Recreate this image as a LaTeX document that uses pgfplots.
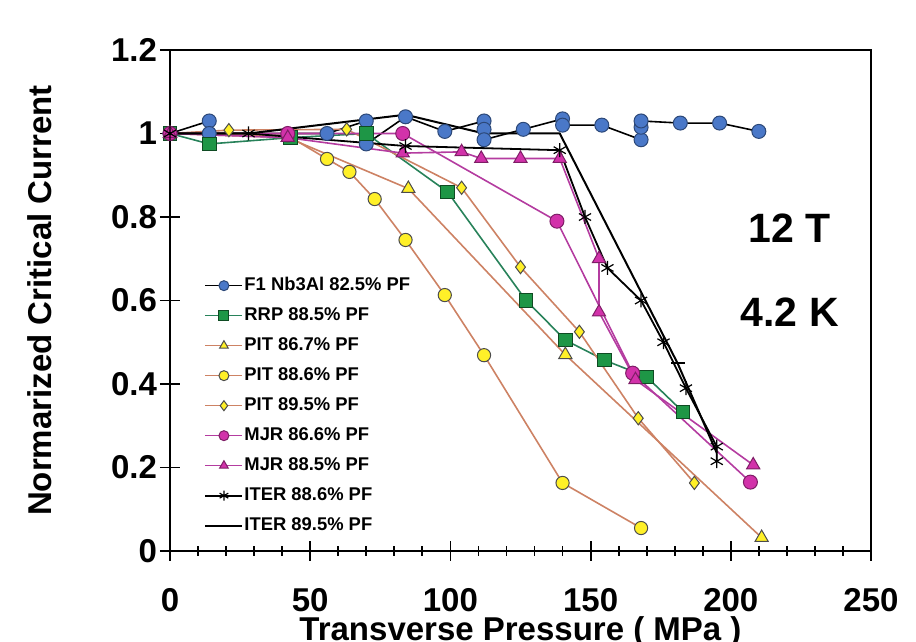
\documentclass[border=0pt]{standalone}
\usepackage{fontspec}
\setmainfont{Liberation Sans}
\usepackage{pgfplots}
\pgfplotsset{compat=1.18}
\definecolor{cblue}{RGB}{74,120,200}
\definecolor{cgreen}{RGB}{30,150,70}
\definecolor{cgline}{RGB}{40,130,90}
\definecolor{cyellow}{RGB}{255,240,40}
\definecolor{ctan}{RGB}{205,130,100}
\definecolor{cmag}{RGB}{210,50,170}
\definecolor{cmline}{RGB}{180,60,160}
\begin{document}
\begin{tikzpicture}
\useasboundingbox (-85pt,-45.5pt) rectangle (373pt,275.5pt);
\begin{axis}[
  at={(0pt,0pt)}, anchor=south west,
  scale only axis, width=350.5pt, height=250.5pt,
  xmin=0, xmax=250, ymin=0, ymax=1.2,
  xtick={0,50,100,150,200,250},
  xticklabels={0,50,100,150,200,250},
  ytick={0,0.2,0.4,0.6,0.8,1,1.2},
  yticklabels={0,0.2,0.4,0.6,0.8,1,1.2},
  xtick pos=bottom, ytick pos=left,
  minor x tick num=4,
  tick align=center,
  major tick length=10pt, minor tick length=5pt,
  axis line style={line width=1.2pt},
  every tick/.style={black, line width=0.9pt},
  ticklabel style={font=\bfseries\fontsize{16.5}{16.5}\selectfont},
  xticklabel style={yshift=-10pt},
  yticklabel style={xshift=2pt},
  xlabel={Transverse Pressure ( MPa )},
  ylabel={Normarized Critical Current},
  label style={font=\bfseries\fontsize{16.5}{16.5}\selectfont},
  xlabel style={at={(axis description cs:0.5,-0.1796)}, anchor=base},
  ylabel style={at={(axis description cs:-0.1855,0.5)}, anchor=center},
  legend style={at={(axis cs:10,0.67)}, anchor=north west, draw=none, fill=none,
    font=\bfseries\fontsize{9.2}{9.2}\selectfont,
    nodes={inner sep=0.5pt, text height=7pt, text depth=2pt},
    row sep=5pt},
  legend cell align=left,
  legend image code/.code={\draw[mark repeat=2,mark phase=2,#1] plot coordinates {(0pt,0pt) (9.25pt,0pt) (18.5pt,0pt)};},
  legend image post style={mark size=2.5pt},
]
\addplot[black, line width=0.8pt, mark=*, mark size=3.5pt, mark options={fill=cblue, draw=cblue!60!black, line width=0.5pt}] coordinates {
(0,1.0) (14,1.03) (14,1.0) (56,1.0) (70,1.03) (70,0.975) (84,1.04) (98,1.005) (112,1.03) (112,1.01) (112,0.985) (126,1.01) (140,1.035) (140,1.02) (154,1.02) (168,0.985) (168,1.015) (168,1.03) (182,1.025) (196,1.025) (210,1.005)};
\addlegendentry{F1 Nb3Al 82.5\% PF}
\addplot[cgline, line width=0.8pt, mark=square*, mark size=3.4pt, mark options={fill=cgreen, draw=cgreen!50!black, line width=0.5pt}] coordinates {
(0,1.0) (14,0.975) (43,0.99) (70,1.0) (99,0.86) (127,0.60) (141,0.505) (155,0.457) (170,0.417) (183,0.333)};
\addlegendentry{RRP 88.5\% PF}
\addplot[ctan, line width=0.8pt, mark=triangle*, mark size=3.8pt, mark options={fill=cyellow, draw=black!70, line width=0.5pt}] coordinates {
(0,1.0) (42,0.99) (85,0.868) (141,0.47) (211,0.032)};
\addlegendentry{PIT 86.7\% PF}
\addplot[ctan, line width=0.8pt, mark=*, mark size=3.3pt, mark options={fill=cyellow, draw=black!70, line width=0.5pt}] coordinates {
(0,1.0) (42,0.995) (56,0.939) (64,0.908) (73,0.843) (84,0.745) (98,0.613) (112,0.469) (140,0.163) (168,0.055)};
\addlegendentry{PIT 88.6\% PF}
\addplot[ctan, line width=0.8pt, mark=diamond*, mark size=3.3pt, mark options={fill=cyellow, draw=black!70, line width=0.5pt}] coordinates {
(0,1.0) (21,1.008) (63,1.01) (104,0.87) (125,0.68) (146,0.525) (167,0.318) (187,0.163)};
\addlegendentry{PIT 89.5\% PF}
\addplot[cmline, line width=0.8pt, mark=*, mark size=3.5pt, mark options={fill=cmag, draw=cmag!60!black, line width=0.5pt}] coordinates {
(0,1.0) (42,1.0) (83,1.0) (138,0.79) (165,0.426) (207,0.165)};
\addlegendentry{MJR 86.6\% PF}
\addplot[cmline, line width=0.8pt, mark=triangle*, mark size=3.8pt, mark options={fill=cmag, draw=cmag!60!black, line width=0.5pt}] coordinates {
(0,1.0) (42,0.99) (83,0.953) (104,0.956) (111,0.94) (125,0.94) (139,0.94) (153,0.70) (153,0.572) (166,0.41) (208,0.206)};
\addlegendentry{MJR 88.5\% PF}
\addplot[black, line width=0.9pt, mark=asterisk, mark size=3.5pt, mark options={line width=0.6pt}] coordinates {
(0,1.0) (28,1.0) (84,0.97) (139,0.96) (148,0.80) (156,0.678) (168,0.60) (176,0.50) (184,0.39) (195,0.25) (195,0.215)};
\addlegendentry{ITER 88.6\% PF}
\addplot[black, line width=1pt, mark=-, mark size=3.5pt, mark indices={6}] coordinates {
(0,1.0) (28,1.0) (84,1.045) (112,1.0) (139,1.0) (181,0.45) (195,0.235)};
\addlegendentry{ITER 89.5\% PF}
\node[font=\bfseries\fontsize{20.5}{20.5}\selectfont] at (axis cs:221,0.774) {12 T};
\node[font=\bfseries\fontsize{20.5}{20.5}\selectfont] at (axis cs:221,0.572) {4.2 K};
\end{axis}
\end{tikzpicture}
\end{document}
